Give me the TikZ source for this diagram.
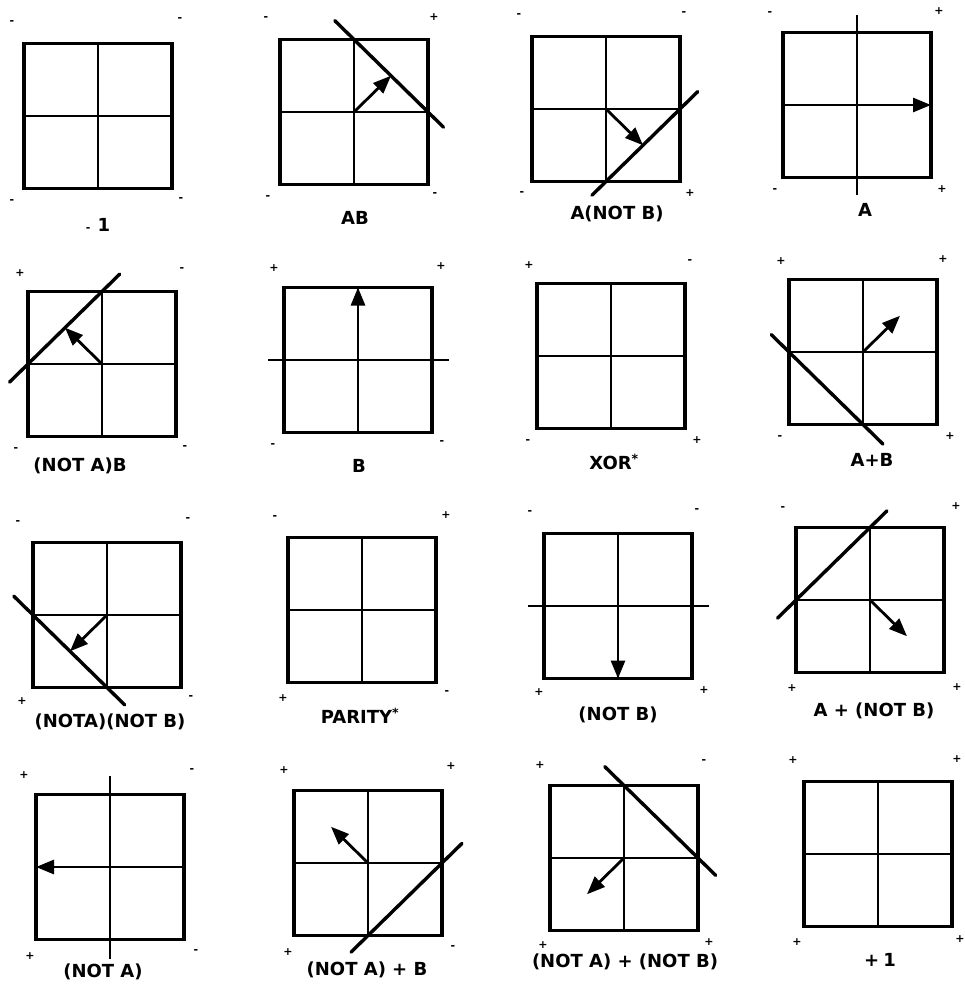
\documentclass[tikz,border=0pt]{standalone}
\usepackage{fontspec}
\setmainfont{DejaVu Sans}
\usetikzlibrary{calc,arrows.meta}
\tikzset{
  sq/.style={draw, line width=3.2pt, minimum width=148pt, minimum height=145pt, inner sep=0pt, outer sep=0pt},
  gridln/.style={line width=2.2pt},
  axisln/.style={line width=2.5pt},
  sepln/.style={line width=3.4pt, line cap=round},
  vec/.style={line width=2.8pt, -{Triangle[length=18pt,width=14pt]}},
  lab/.style={font=\bfseries\fontsize{18}{18}\selectfont, inner sep=0pt},
  sgn/.style={font=\bfseries\fontsize{11}{11}\selectfont, inner sep=0pt}
}
\begin{document}
\begin{tikzpicture}[x=1pt,y=-1pt]
\useasboundingbox (0,0) rectangle (964,990);
% squares
\foreach \n/\x/\y in {1/98/116, 2/354/112, 3/606/109, 4/857/105,
                      5/102/364, 6/358/360, 7/611/356, 8/863/352,
                      9/107/615, 10/362/610, 11/618/606, 12/870/600,
                      13/110/867, 14/368/863, 15/624/858, 16/878/854}{
  \node[sq] (p\n) at (\x,\y) {};
  \draw[gridln] (p\n.north) -- (p\n.south);
  \draw[gridln] (p\n.west) -- (p\n.east);
}
% panel 2: AB
\draw[sepln] ($(p2.north)!-0.26!(p2.east)$) -- ($(p2.north)!1.21!(p2.east)$);
\draw[vec] (p2.center) -- ($(p2.north)!0.5!(p2.east)$);
% panel 3: A(NOT B)
\draw[sepln] ($(p3.south)!-0.19!(p3.east)$) -- ($(p3.south)!1.24!(p3.east)$);
\draw[vec] (p3.center) -- ($(p3.south)!0.5!(p3.east)$);
% panel 4: A
\draw[axisln] ($(p4.north)+(0,-17)$) -- ($(p4.south)+(0,17)$);
\draw[vec] (p4.center) -- (p4.east);
% panel 5: (NOT A)B
\draw[sepln] ($(p5.west)!-0.25!(p5.north)$) -- ($(p5.west)!1.24!(p5.north)$);
\draw[vec] (p5.center) -- ($(p5.west)!0.5!(p5.north)$);
% panel 6: B
\draw[axisln] ($(p6.west)+(-16,0)$) -- ($(p6.east)+(17,0)$);
\draw[vec] (p6.center) -- (p6.north);
% panel 8: A+B
\draw[sepln] ($(p8.west)!-0.24!(p8.south)$) -- ($(p8.west)!1.27!(p8.south)$);
\draw[vec] (p8.center) -- ($(p8.center)!-1!($(p8.west)!0.5!(p8.south)$)$);
% panel 9: (NOTA)(NOT B)
\draw[sepln] ($(p9.west)!-0.26!(p9.south)$) -- ($(p9.west)!1.24!(p9.south)$);
\draw[vec] (p9.center) -- ($(p9.west)!0.5!(p9.south)$);
% panel 11: (NOT B)
\draw[axisln] ($(p11.west)+(-16,0)$) -- ($(p11.east)+(17,0)$);
\draw[vec] (p11.center) -- (p11.south);
% panel 12: A + (NOT B)
\draw[sepln] ($(p12.west)!-0.25!(p12.north)$) -- ($(p12.west)!1.23!(p12.north)$);
\draw[vec] (p12.center) -- ($(p12.center)!-1!($(p12.west)!0.5!(p12.north)$)$);
% panel 13: (NOT A)
\draw[axisln] ($(p13.north)+(0,-19)$) -- ($(p13.south)+(0,19)$);
\draw[vec] (p13.center) -- (p13.west);
% panel 14: (NOT A) + B
\draw[sepln] ($(p14.south)!-0.23!(p14.east)$) -- ($(p14.south)!1.27!(p14.east)$);
\draw[vec] (p14.center) -- ($(p14.center)!-1!($(p14.south)!0.5!(p14.east)$)$);
% panel 15: (NOT A) + (NOT B)
\draw[sepln] ($(p15.north)!-0.26!(p15.east)$) -- ($(p15.north)!1.24!(p15.east)$);
\draw[vec] (p15.center) -- ($(p15.center)!-1!($(p15.north)!0.5!(p15.east)$)$);
% corner signs
\foreach \x/\y/\s [count=\i] in {
  12/23/-, 180/20/-, 12/202/-, 181/200/-,
  266/19/-, 434/17/+, 268/198/-, 435/195/-,
  519/16/-, 684/14/-, 522/194/-, 690/193/+,
  770/14/-, 939/11/+, 775/191/-, 942/189/+,
  20/273/+, 182/270/-, 16/450/-, 185/448/-,
  274/268/+, 441/266/+, 273/446/-, 442/443/-,
  529/265/+, 690/262/-, 528/442/-, 697/440/+,
  781/261/+, 943/259/+, 780/438/-, 950/436/+,
  18/523/-, 188/520/-, 22/701/+, 191/698/-,
  275/518/-, 446/515/+, 283/698/+, 447/693/-,
  530/513/-, 697/511/-, 539/692/+, 704/690/+,
  783/509/-, 956/506/+, 792/688/+, 957/687/+,
  24/775/+, 192/771/-, 30/956/+, 196/952/-,
  284/770/+, 451/766/+, 288/952/+, 453/948/-,
  540/765/+, 704/762/-, 543/945/+, 709/942/+,
  793/760/+, 957/759/+, 797/942/+, 960/939/+}{
  \node[sgn] (s\i) at (\x,\y) {\s};
}
% labels
\node[lab] (l1) at (98,225) {{\fontsize{11}{11}\selectfont -}\hspace{7pt}1};
\node[lab] (l2) at (355,218) {AB};
\node[lab] (l3) at (617,214) {A(NOT B)};
\node[lab] (l4) at (865,210) {A};
\node[lab] (l5) at (80,466) {(NOT A)B};
\node[lab] (l6) at (359,466) {B};
\node[lab] (l7) at (614,462) {XOR\textsuperscript{*}};
\node[lab] (l8) at (872,460) {A+B};
\node[lab] (l9) at (110,722) {(NOTA)(NOT B)};
\node[lab] (l10) at (360,716) {PARITY\textsuperscript{*}};
\node[lab] (l11) at (618,715) {(NOT B)};
\node[lab] (l12) at (874,711) {A + (NOT B)};
\node[lab] (l13) at (103,972) {(NOT A)};
\node[lab] (l14) at (367,970) {(NOT A) + B};
\node[lab] (l15) at (625,962) {(NOT A) + (NOT B)};
\node[lab] (l16) at (880,960) {+\hspace{4pt}1};
\end{tikzpicture}
\end{document}
